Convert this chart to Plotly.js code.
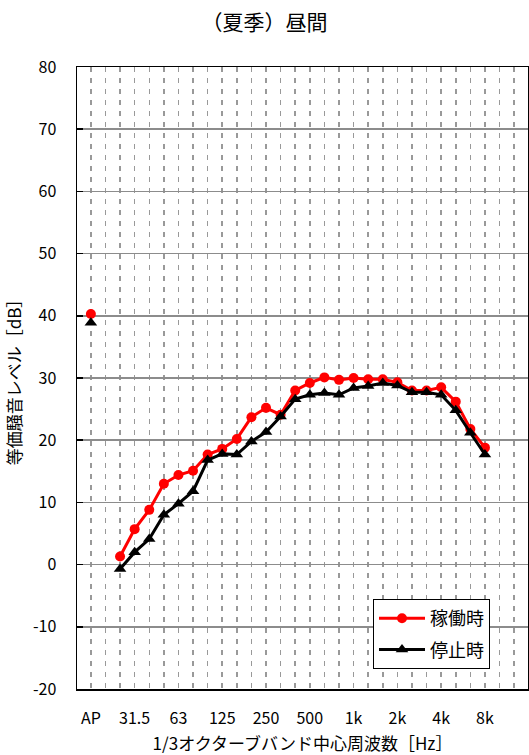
<!DOCTYPE html>
<html>
<head>
<meta charset="utf-8">
<script src="https://cdn.plot.ly/plotly-3.0.1.min.js"></script>
<style>html,body{margin:0;padding:0;background:#fff;}#chart{width:529px;height:755px;}</style>
</head>
<body>
<div id="chart"></div>
<script>
// 1/3 octave band centre frequencies (AP = overall)
const bands = ['AP','20','25','31.5','40','50','63','80','100','125','160','200','250','315','400','500','630','800','1k','1.25k','1.6k','2k','2.5k','3.15k','4k','5k','6.3k','8k','10k','12.5k'];
const tickLabels = ['AP','31.5','63','125','250','500','1k','2k','4k','8k'];
const yTicks = [-20, -10, 0, 10, 20, 30, 40, 50, 60, 70, 80];
const seriesNames = ['稼働時','停止時'];
const operating = [40.3, null, 1.3, 5.7, 8.8, 13.0, 14.4, 15.1, 17.7, 18.6, 20.2, 23.7, 25.2, 24.1, 28.0, 29.2, 30.1, 29.7, 30.0, 29.8, 29.8, 29.3, 28.0, 28.0, 28.5, 26.2, 21.8, 18.8, null, null];
const stopped   = [38.9, null, -0.7, 2.0, 4.1, 8.0, 9.8, 11.8, 16.8, 17.8, 17.7, 19.8, 21.3, 23.8, 26.6, 27.3, 27.6, 27.3, 28.4, 28.7, 29.2, 28.8, 27.7, 27.7, 27.3, 24.8, 21.2, 17.7, null, null];

const xIdx = bands.map((_, i) => i);
const tickVals = tickLabels.map(l => bands.indexOf(l));
const FONT = '"Noto Sans CJK JP", "Noto Sans", sans-serif';
const xRange = [-0.95, 29.95];
const dash = '5px,6px';

const traces = [
  {x: xIdx, y: operating, name: seriesNames[0], legendgroup: 'a', mode: 'lines+markers', type: 'scatter',
   line: {color: '#ff0000', width: 3}, marker: {symbol: 'circle', size: 10, color: '#ff0000'}, connectgaps: false},
  {x: xIdx, y: stopped, name: seriesNames[1], legendgroup: 'b', mode: 'lines+markers', type: 'scatter',
   line: {color: '#000000', width: 3}, marker: {symbol: 'triangle-up', size: 11, color: '#000000'}, connectgaps: false}
];

const layout = {
  width: 529, height: 755,
  margin: {l: 77, r: 1, t: 67, b: 66},
  paper_bgcolor: '#fff', plot_bgcolor: '#fff',
  font: {family: FONT, color: '#000', size: 16},
  showlegend: true,
  title: {text: '（夏季）昼間', font: {family: FONT, size: 21, color: '#000'},
          x: 0.5, xref: 'container', y: 1 - 23/755, yref: 'container', yanchor: 'middle', xanchor: 'center'},
  xaxis: {
    type: 'linear', range: xRange, tickmode: 'array', tickvals: tickVals, ticktext: tickLabels,
    ticks: '', showgrid: true, gridcolor: '#999', gridwidth: 1.5, griddash: dash,
    minor: {tick0: 0, dtick: 1, showgrid: true, gridcolor: '#999', gridwidth: 1.5, griddash: dash, ticks: ''},
    showline: true, linecolor: '#000', linewidth: 1.5, mirror: true, zeroline: false,
    tickfont: {size: 16}, ticklabelstandoff: 14,
    title: {text: '1/3オクターブバンド中心周波数［Hz］', font: {size: 17}, standoff: 10}
  },
  xaxis2: {
    overlaying: 'x', anchor: 'y', side: 'bottom', type: 'linear', range: xRange,
    tickmode: 'linear', tick0: 0.5, dtick: 1, ticks: 'inside', ticklen: 5, tickwidth: 1.5, tickcolor: '#000',
    showticklabels: false, showgrid: false, zeroline: false, showline: false
  },
  yaxis: {
    range: [-20, 80], tickmode: 'array', tickvals: yTicks, ticktext: yTicks.map(v => String(v)),
    ticks: 'inside', ticklen: 6, tickwidth: 1.5, tickcolor: '#000',
    showline: true, linecolor: '#000', linewidth: 1.5, mirror: true,
    showgrid: true, gridcolor: '#8c8c8c', gridwidth: 1.5, zeroline: false,
    tickfont: {size: 16}, ticklabelstandoff: 16,
    title: {text: '等価騒音レベル［dB］', font: {size: 17}, standoff: 7}
  },
  legend: {
    x: (373 - 77) / 451, y: (689 - 599) / 622, xanchor: 'left', yanchor: 'top',
    bgcolor: '#fff', bordercolor: '#000', borderwidth: 1,
    font: {size: 18, color: '#000'}, traceorder: 'grouped', tracegroupgap: 5,
    itemwidth: 46
  }
};

Plotly.newPlot('chart', traces, layout, {staticPlot: true, displayModeBar: false});
</script>
</body>
</html>
